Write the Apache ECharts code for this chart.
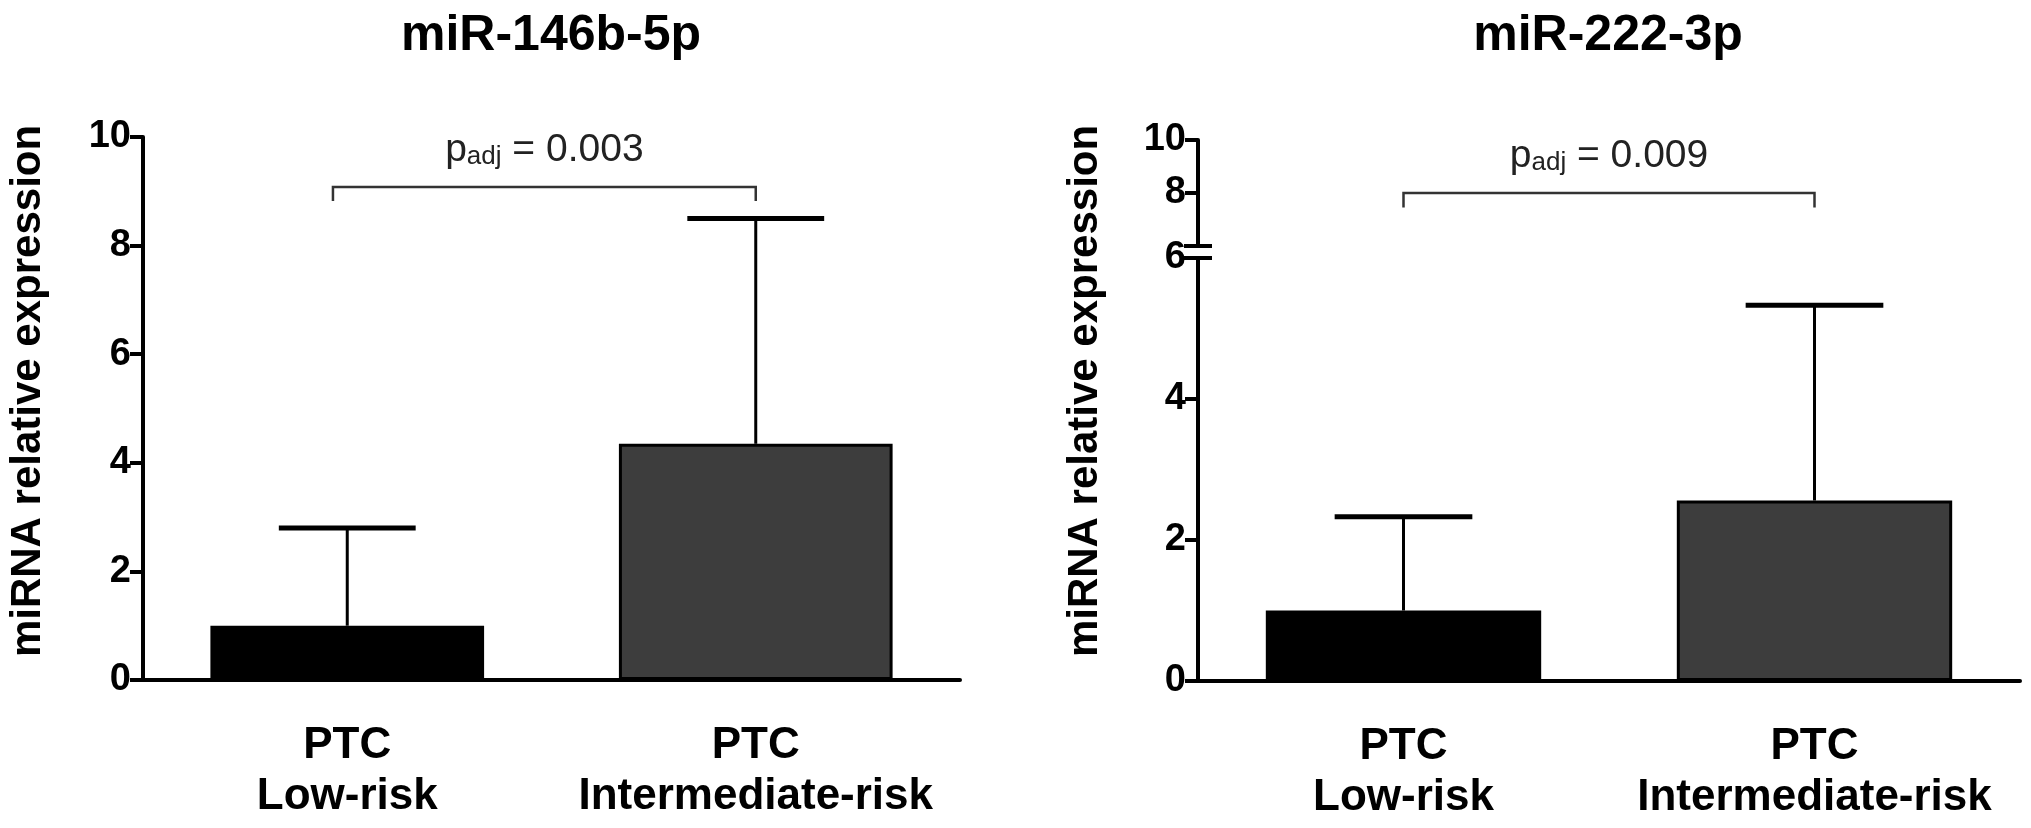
<!DOCTYPE html>
<html><head><meta charset="utf-8">
<script src="https://cdn.jsdelivr.net/npm/echarts@6/dist/echarts.min.js"></script>
<style>html,body{margin:0;padding:0;background:#fff}#c{width:2031px;height:828px}</style>
</head><body><div id="c"></div>
<script>
// ---- data ----
const categories = ['PTC\nLow-risk', 'PTC\nIntermediate-risk'];
const titles = ['miR-146b-5p', 'miR-222-3p'];
const yAxisTitle = 'miRNA relative expression';
const meanA = [1.0, 4.35];
const sdA = [1.8, 4.15];
const meanB = [1.0, 2.56];
const sdB = [1.33, 2.77];
const pValueA = '0.003';
const pValueB = '0.009';
const bracketLevelA = [9.08, 8.82];
const bracketLevelB = [8.0, 7.45];
const bracketEndsA = [-0.035, 1.0];
const bracketEndsB = [0, 1.0];
const breakValue = 6;

const FONT = '"Liberation Sans", Arial, sans-serif';
const barColors = ['#000000', '#3d3d3d'];

function barSeries(xi, yi, means) {
  return {
    type: 'bar', xAxisIndex: xi, yAxisIndex: yi, barWidth: '67%', z: 2,
    data: means.map((m, i) => ({ value: m, itemStyle: { color: barColors[i], borderColor: '#000', borderWidth: 3 } })),
    silent: true
  };
}
function errorSeries(xi, yi, means, sds) {
  return {
    type: 'custom', xAxisIndex: xi, yAxisIndex: yi, z: 1, silent: true,
    data: means.map((m, i) => [i, m, m + sds[i]]),
    renderItem(params, api) {
      const x = api.value(0);
      const p0 = api.coord([x, api.value(1)]);
      const p1 = api.coord([x, api.value(2)]);
      const half = api.size([1, 0])[0] * 0.67 / 4;
      return { type: 'group', children: [
        { type: 'line', shape: { x1: p0[0], y1: p0[1], x2: p1[0], y2: p1[1] }, style: { stroke: '#000', lineWidth: 3 } },
        { type: 'line', shape: { x1: p1[0] - half, y1: p1[1], x2: p1[0] + half, y2: p1[1] }, style: { stroke: '#000', lineWidth: 5 } }
      ]};
    }
  };
}
function bracketSeries(xi, yi, ends, levels, pval) {
  return {
    type: 'custom', xAxisIndex: xi, yAxisIndex: yi, z: 3, silent: true,
    data: [[ends[0], ends[1], levels[0], levels[1]]],
    renderItem(params, api) {
      const a = api.coord([0, api.value(2)]);
      const band = api.size([1, 0])[0];
      const xl = a[0] + api.value(0) * band;
      const xr = a[0] + api.value(1) * band;
      const y = a[1];
      const yd = api.coord([0, api.value(3)])[1];
      return { type: 'group', children: [
        { type: 'polyline', shape: { points: [[xl, yd], [xl, y], [xr, y], [xr, yd]] }, style: { stroke: '#333', lineWidth: 2.5, fill: null } },
        { type: 'text', x: (xl + xr) / 2, y: y - 17, style: {
            text: '{p|p}{s|adj}{p| = ' + pval + '}',
            align: 'center', verticalAlign: 'bottom', fill: '#222',
            rich: {
              p: { fontSize: 39, lineHeight: 44, verticalAlign: 'bottom', fontFamily: FONT, fill: '#222' },
              s: { fontSize: 26, lineHeight: 20, verticalAlign: 'bottom', fontFamily: FONT, fill: '#222' }
            }
        } }
      ]};
    }
  };
}
function breakSeries(xi, yi) {
  return {
    type: 'custom', xAxisIndex: xi, yAxisIndex: yi, z: 5, silent: true, clip: false,
    data: [[0, breakValue]],
    renderItem(params, api) {
      const c = api.coord([0, api.value(1)]);
      const ax = c[0] - api.size([1, 0])[0] / 2;
      return { type: 'line', shape: { x1: ax - 14, y1: c[1], x2: ax + 14, y2: c[1] }, style: { stroke: '#000', lineWidth: 4 } };
    }
  };
}

const axisLineStyle = { color: '#000', width: 4 };
function xAxis(gi, show) {
  return {
    gridIndex: gi, type: 'category', data: categories, show: show,
    axisLine: { lineStyle: axisLineStyle },
    axisTick: { alignWithLabel: true, length: 16, lineStyle: { color: '#000', width: 4 } },
    axisLabel: { color: '#000', fontSize: 44, fontWeight: 'bold', lineHeight: 51, margin: 40, fontFamily: FONT, interval: 0 }
  };
}
function yAxis(gi, min, max, hideVals) {
  return {
    gridIndex: gi, type: 'value', min: min, max: max, interval: 2,
    axisLine: { show: true, lineStyle: axisLineStyle },
    axisTick: { show: true, length: 13, lineStyle: { color: '#000', width: 4 } },
    splitLine: { show: false },
    axisLabel: { color: '#000', fontSize: 38, fontWeight: 'bold', margin: 12, fontFamily: FONT,
      formatter: v => (hideVals && hideVals.indexOf(v) >= 0) ? '' : String(v) }
  };
}

const chart = echarts.init(document.getElementById('c'), null, { renderer: 'canvas' });
chart.setOption({
  backgroundColor: '#fff',
  animation: false,
  title: [
    { text: titles[0], left: 551, top: 11, textAlign: 'center', padding: 0, textStyle: { fontSize: 50, fontWeight: 'bold', color: '#000', fontFamily: FONT } },
    { text: titles[1], left: 1608, top: 11, textAlign: 'center', padding: 0, textStyle: { fontSize: 50, fontWeight: 'bold', color: '#000', fontFamily: FONT } }
  ],
  graphic: [
    { type: 'text', x: 28, y: 391, rotation: Math.PI / 2, style: { text: yAxisTitle, fontSize: 42, fontWeight: 'bold', fontFamily: FONT, fill: '#000', align: 'center', verticalAlign: 'middle' } },
    { type: 'text', x: 1085, y: 391, rotation: Math.PI / 2, style: { text: yAxisTitle, fontSize: 42, fontWeight: 'bold', fontFamily: FONT, fill: '#000', align: 'center', verticalAlign: 'middle' } }
  ],
  grid: [
    { left: 143, top: 137, width: 817, height: 543 },
    { left: 1198, top: 258, width: 822, height: 423 },
    { left: 1198, top: 140, width: 822, height: 106 }
  ],
  xAxis: [xAxis(0, true), xAxis(1, true), xAxis(2, false)],
  yAxis: [yAxis(0, 0, 10), yAxis(1, 0, 6), yAxis(2, 6, 10, [6])],
  series: [
    barSeries(0, 0, meanA), errorSeries(0, 0, meanA, sdA), bracketSeries(0, 0, bracketEndsA, bracketLevelA, pValueA),
    barSeries(1, 1, meanB), errorSeries(1, 1, meanB, sdB),
    bracketSeries(2, 2, bracketEndsB, bracketLevelB, pValueB),
    breakSeries(1, 1), breakSeries(2, 2)
  ]
});
</script></body></html>
